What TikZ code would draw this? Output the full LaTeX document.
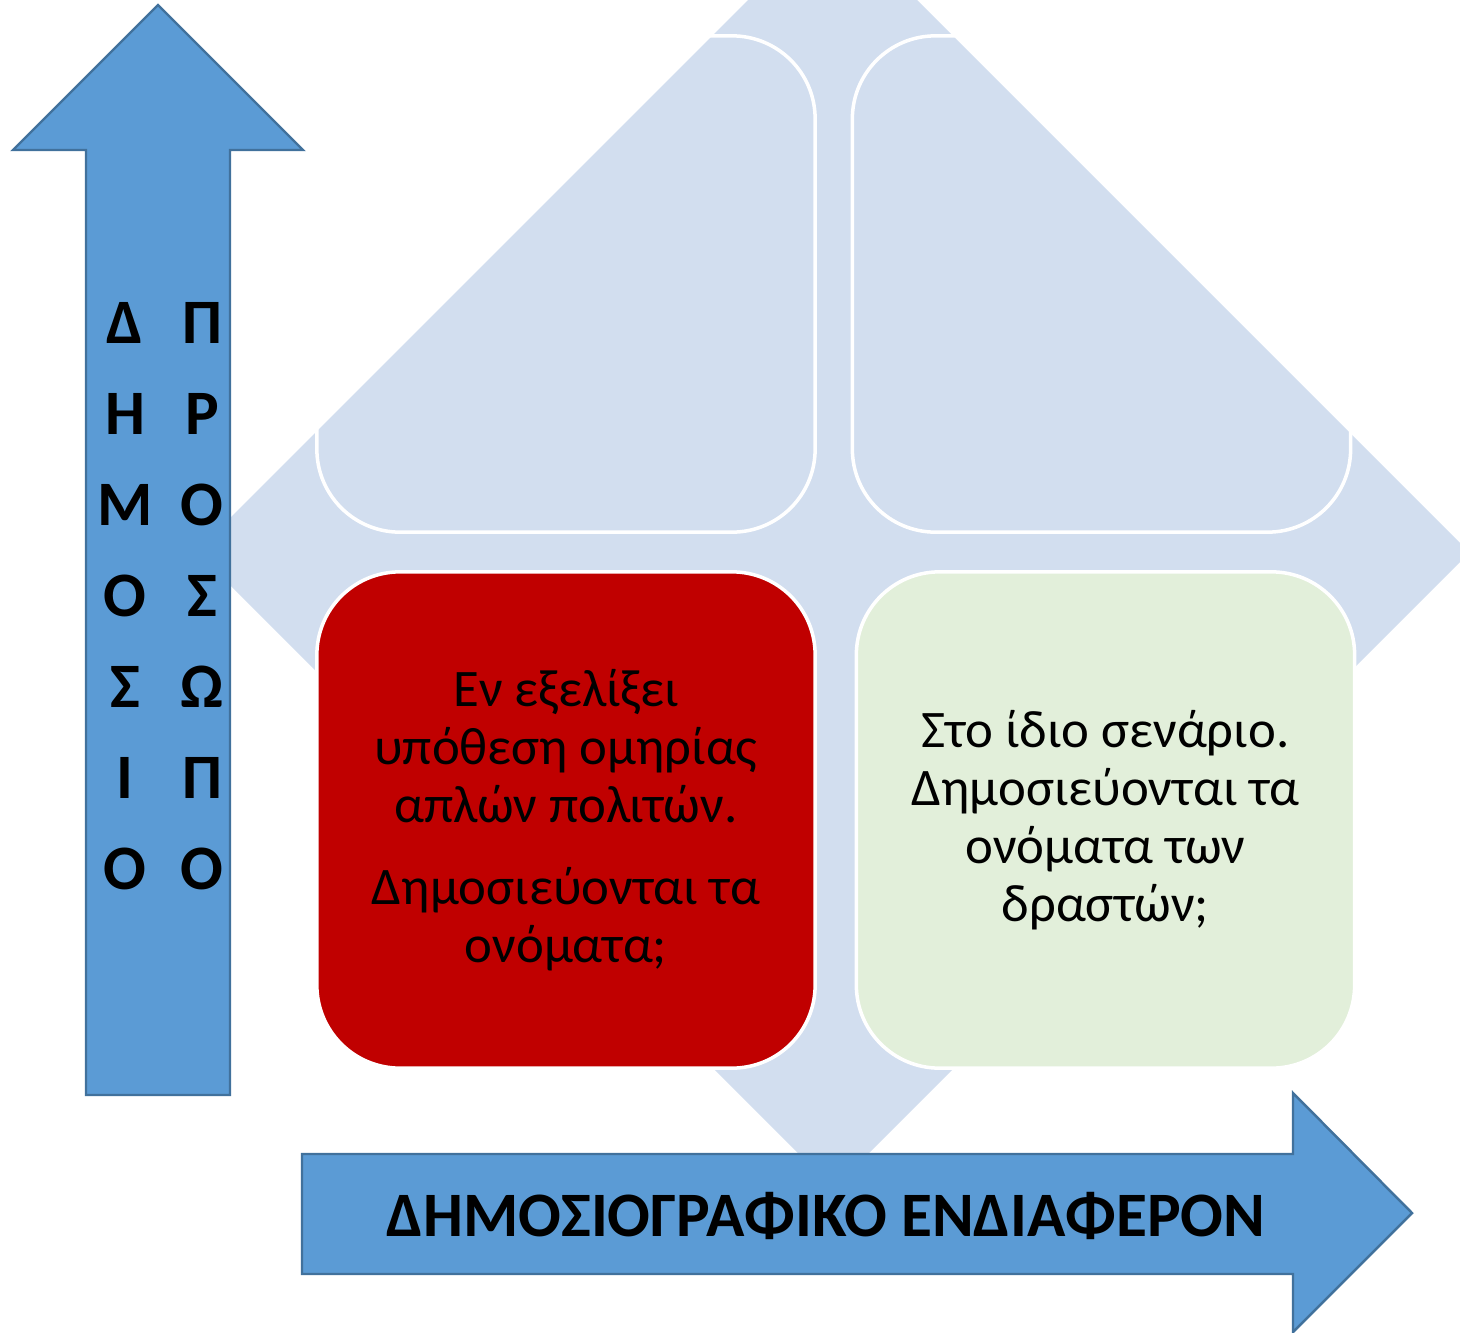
\documentclass[tikz,border=0pt]{standalone}
\usepackage{fontspec}
\setmainfont{Carlito}

\definecolor{diamfill}{HTML}{D2DEEF}
\definecolor{arrowfill}{HTML}{5B9BD5}
\definecolor{arrowline}{HTML}{41719C}
\definecolor{boxred}{HTML}{C00000}
\definecolor{boxgreen}{HTML}{E2EFDA}

\tikzset{
  quad/.style={draw=white, line width=1pt, rounded corners=0.83cm,
    minimum width=4.98cm, minimum height=4.96cm, inner sep=0pt,
    align=center, font=\fontsize{15}{16.5}\selectfont},
  bigarrow/.style={fill=arrowfill, draw=arrowline, line width=0.7pt, line join=miter},
  axislabel/.style={font=\fontsize{18}{25.9}\selectfont\bfseries, align=center, inner sep=0pt}
}

\begin{document}
\begin{tikzpicture}[x=0.01cm, y=-0.01cm]
		\useasboundingbox (0,0) rectangle (1460,1333);
		%Rombos
		\begin{scope}
			\clip (0,0) rectangle (1460,1333);
			\fill [diamfill] (196.5,551.5)--(832.5,-84.5)--(1469.5,552.5)--(833.5,1188.5)--cycle;
		\end{scope}
		%Tetragona
		\node [quad] (topleft) at (566,284) {};
		\node [quad] (topright) at (1101.5,284) {};
		\node [quad, fill=boxred] (redbox) at (566,820) {Εν εξελίξει\\ υπόθεση ομηρίας\\ απλών πολιτών.\\[0.24cm] Δημοσιεύονται τα\\ ονόματα;};
		\node [quad, fill=boxgreen] (greenbox) at (1105.5,820) {Στο ίδιο σενάριο.\\ Δημοσιεύονται τα\\ ονόματα των\\ δραστών;};
		%Katheto belos
		\draw [bigarrow] (86,1095)--(86,150)--(13,150)--(158,5)--(303,150)--(230,150)--(230,1095)--cycle;
		\node [axislabel] (leftcol) at (125,596) {Δ\\ Η\\ Μ\\ Ο\\ Σ\\ Ι\\ Ο};
		\node [axislabel] (rightcol) at (202,596) {Π\\ Ρ\\ Ο\\ Σ\\ Ω\\ Π\\ Ο};
		%Orizontio belos
		\draw [bigarrow] (302,1154)--(1293,1154)--(1293,1093)--(1412,1213)--(1293,1332)--(1293,1274)--(302,1274)--cycle;
		\node [axislabel, anchor=base] (xlabel) at (826,1236) {ΔΗΜΟΣΙΟΓΡΑΦΙΚΟ ΕΝΔΙΑΦΕΡΟΝ};
	\end{tikzpicture}
\end{document}
